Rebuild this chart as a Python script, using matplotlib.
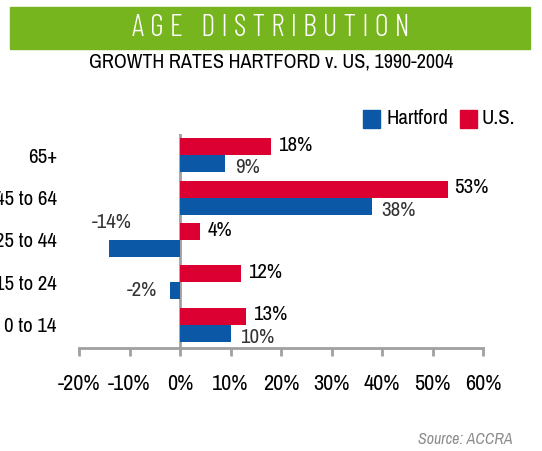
import matplotlib.pyplot as plt
from matplotlib.patches import Rectangle

# age groups, bottom to top
categories = ['0 to 14', '15 to 24', '25 to 44', '45 to 64', '65+']
hartford = [10, -2, -14, 38, 9]
us = [13, 12, 4, 53, 18]
xticks = [-20, -10, 0, 10, 20, 30, 40, 50, 60]

blue = '#0B58A6'
red = '#DC0032'
green = '#77B51F'
gray = '#A0A0A0'

plt.rcParams['font.family'] = ['Archivo Narrow', 'DejaVu Sans']

fig = plt.figure(figsize=(5.42, 4.51), dpi=100)
ax = fig.add_axes([79/542, 1-348/451, (483-79)/542, (348-134)/451])

ypos = list(range(len(categories)))
h = 0.4
ax.barh([y + h/2 for y in ypos], us, height=h, color=red)
ax.barh([y - h/2 for y in ypos], hartford, height=h, color=blue)

# value labels
for y, v in zip(ypos, us):
    ax.annotate(f'{v}%', (v, y + h/2), xytext=(5, 1), textcoords='offset points',
                ha='left', va='center', fontsize=15)
for y, v in zip(ypos, hartford):
    if v >= 0:
        ax.annotate(f'{v}%', (v, y - h/2), xytext=(7, -3), textcoords='offset points',
                    ha='left', va='center', fontsize=15, color='#333333')
    elif v < -5:
        ax.annotate(f'{v}%', (v, y - h/2), xytext=(2, 19), textcoords='offset points',
                    ha='center', va='center', fontsize=15, color='#333333')
    else:
        ax.annotate(f'{v}%', (v, y - h/2), xytext=(-9, 0), textcoords='offset points',
                    ha='right', va='center', fontsize=15, color='#333333')

ax.set_xlim(-20, 60)
ax.set_ylim(-0.55, 4.5)
ax.set_xticks(xticks)
ax.set_xticklabels([f'{t}%' for t in xticks], fontsize=16)
ax.set_yticks(ypos)
ax.set_yticklabels(categories, fontsize=15)
ax.tick_params(axis='y', length=0, pad=16)
ax.tick_params(axis='x', direction='out', length=6, width=2, color=gray, pad=13)
for s in ['top', 'right', 'left']:
    ax.spines[s].set_visible(False)
ax.spines['bottom'].set_color(gray)
ax.spines['bottom'].set_linewidth(2)
ax.axvline(0, color=gray, linewidth=2, zorder=0)

# title band
fig.patches.append(Rectangle((10/542, 1-49/451), 520/542, 42/451,
                             transform=fig.transFigure, color=green, zorder=0))
fig.text(0.5, 1-28/451, '   '.join(' '.join(w) for w in 'AGE DISTRIBUTION'.split()),
         color='white', fontsize=22, ha='center', va='center',
         family=['Barlow Condensed', 'Archivo Narrow', 'DejaVu Sans'], weight=300)
fig.text(0.5, 1-62/451, 'GROWTH RATES HARTFORD v. US, 1990-2004',
         fontsize=14.5, ha='center', va='center')

# legend
fig.patches.append(Rectangle((363/542, 1-128/451), 17/542, 18/451,
                             transform=fig.transFigure, color=blue))
fig.text(386/542, 1-119/451, 'Hartford', fontsize=15, va='center')
fig.patches.append(Rectangle((460/542, 1-128/451), 17/542, 18/451,
                             transform=fig.transFigure, color=red))
fig.text(482/542, 1-119/451, 'U.S.', fontsize=15, va='center')

fig.text(513/542, 1-440/451, 'Source: ACCRA', fontsize=11.5, ha='right',
         va='center', color='#8C8C8C', style='italic')

fig.savefig('out.png', dpi=100)
